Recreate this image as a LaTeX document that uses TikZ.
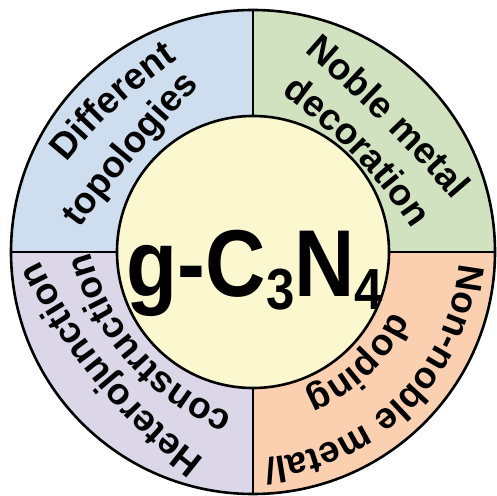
\documentclass[tikz,border=0pt]{standalone}
\usepackage{fontspec}
\setmainfont{Liberation Sans}
\usetikzlibrary{decorations.text}
\definecolor{cblue}{HTML}{CFDEEE}
\definecolor{cgreen}{HTML}{D0E2BF}
\definecolor{cpeach}{HTML}{FBD0B0}
\definecolor{clav}{HTML}{DCD6E9}
\definecolor{cyel}{HTML}{FBF7CE}
\newcommand{\segfont}{\fontsize{37}{37}\selectfont\bfseries}
% #1 angle, #2 baseline radius, #3 curvature radius, #4 text
\newcommand{\arctext}[4]{%
  \pgfmathsetmacro\bb{200/#3*57.2958}%
  \path[decorate,decoration={text along path,text={|\segfont|#4},text align=center}]
    (O) ++(#1:#2-#3) ++(#1+\bb:#3) arc[start angle=#1+\bb,end angle=#1-\bb,radius=#3];
}
\begin{document}
\begin{tikzpicture}[x=1pt,y=1pt,border/.style={line width=2.6pt,black}]
\useasboundingbox (0,0) rectangle (496,496);
\coordinate (O) at (253,244);
\def\Ro{242}
\def\Ri{136}
\fill[cgreen] (O) -- ++(0:\Ro) arc[start angle=0,end angle=90,radius=\Ro] -- cycle;
\fill[cblue] (O) -- ++(90:\Ro) arc[start angle=90,end angle=180,radius=\Ro] -- cycle;
\fill[clav] (O) -- ++(180:\Ro) arc[start angle=180,end angle=270,radius=\Ro] -- cycle;
\fill[cpeach] (O) -- ++(270:\Ro) arc[start angle=270,end angle=360,radius=\Ro] -- cycle;
\draw[border] (O) ++(0:\Ri) -- ++(0:\Ro-\Ri);
\draw[border] (O) ++(90:\Ri) -- ++(90:\Ro-\Ri);
\draw[border] (O) ++(180:\Ri) -- ++(180:\Ro-\Ri);
\draw[border] (O) ++(270:\Ri) -- ++(270:\Ro-\Ri);
\draw[border] (O) circle[radius=\Ro];
\draw[border,fill=cyel] (O) circle[radius=\Ri];
\arctext{133}{198}{520}{Different}
\arctext{140}{151}{1500}{topologies}
\arctext{45}{182}{1400}{Noble metal}
\arctext{44}{139}{525}{decoration}
\arctext{-45}{204}{215}{Non-noble metal/}
\arctext{-46.5}{150}{160}{doping}
\arctext{219.5}{185}{555}{Heterojunction}
\arctext{221.5}{148}{240}{construction}
\node[anchor=base,inner sep=0pt] (gcn) at (255,199) {\scalebox{0.88}[1]{\fontsize{95}{95}\selectfont\bfseries g-C\raisebox{-13pt}{\fontsize{58}{58}\selectfont 3}N\raisebox{-13pt}{\fontsize{58}{58}\selectfont 4}}};
\end{tikzpicture}
\end{document}
